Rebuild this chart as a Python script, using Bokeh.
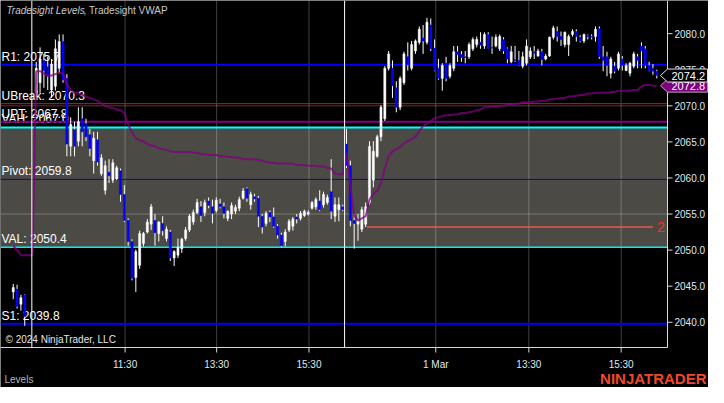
from bokeh.plotting import figure
from bokeh.models import Range1d, ColumnDataSource
from bokeh.embed import file_html
from bokeh.resources import INLINE
from bokeh.core.properties import value

nan = float("nan")

# ---------------- data (5-minute bars, bar number = position) ----------------
opens = [
    2044.2, 2044.6, 2042.5, 2043.8, nan, nan, 2071.8, 2073.2, 2076.3, 2075.4,
    2072.2, 2072.7, 2075.2, 2078.9, 2073.8, 2064.4, 2066.7, 2065.1, 2068.2, 2067.5,
    2066.0, 2062.4, 2065.3, 2060.6, 2058.3, 2060.8, 2059.7, 2059.9, 2061.0, 2057.7,
    2054.1, 2051.2, 2046.2, 2047.9, 2050.9, 2052.5, 2053.6, 2054.1, 2052.3, 2053.7,
    2051.6, 2052.5, 2048.9, 2049.3, 2050.2, 2051.6, 2052.8, 2053.9, 2055.2, 2056.0,
    2055.2, 2056.8, 2056.0, 2055.5, 2056.4, 2056.0, 2054.4, 2055.0, 2055.4, 2055.8,
    2057.2, 2058.5, 2056.3, 2057.4, 2057.2, 2054.7, 2053.7, 2055.2, 2054.6, 2053.3,
    2052.1, 2051.2, 2052.8, 2053.3, 2054.6, 2054.4, 2054.8, 2055.0, 2055.8, 2056.0,
    2056.8, 2056.3, 2056.6, 2058.1, 2054.7, 2055.6, 2056.0, 2064.7, 2061.7, 2054.1,
    2053.6, 2052.9, 2053.6, 2056.6, 2059.7, 2063.0, 2065.7, 2068.2, 2075.2, 2075.2,
    2072.5, 2069.8, 2073.2, 2076.8, 2075.2, 2077.6, 2078.8, 2079.4, 2078.8, 2081.2,
    2078.0, 2075.2, 2073.8, 2075.9, 2074.1, 2075.2, 2077.5, 2077.1, 2076.8, 2076.8,
    2077.9, 2078.5, 2078.8, 2078.3, 2079.9, 2078.1, 2078.3, 2077.9, 2079.2, 2077.9,
    2076.1, 2076.4, 2076.3, 2075.5, 2075.9, 2076.8, 2077.5, 2076.9, 2077.5, 2076.5,
    2076.9, 2079.5, 2080.3, 2079.6, 2078.5, 2078.5, 2079.9, 2080.3, 2079.5, 2079.0,
    2079.8, 2079.6, 2079.6, 2080.7, 2076.8, 2076.8, 2074.5, 2075.5, 2075.2, 2076.5,
    2074.9, 2074.5, 2075.5, 2076.8, 2078.3, 2077.9, 2075.6, 2075.2, 2074.8,
]
highs = [
    2045.3, 2045.2, 2043.8, 2043.9, nan, nan, 2076.1, 2078.1, 2077.2, 2076.8,
    2076.5, 2079.2, 2079.9, 2079.9, 2074.4, 2068.4, 2067.8, 2069.8, 2069.8, 2068.2,
    2066.8, 2066.4, 2066.4, 2063.3, 2062.4, 2062.6, 2062.6, 2061.7, 2061.3, 2059.0,
    2054.4, 2051.5, 2050.1, 2052.7, 2052.5, 2054.3, 2056.4, 2055.0, 2054.0, 2054.7,
    2053.3, 2052.8, 2050.0, 2051.6, 2051.7, 2053.2, 2055.0, 2055.6, 2057.1, 2056.8,
    2057.0, 2057.3, 2057.0, 2057.3, 2057.1, 2056.6, 2055.5, 2056.6, 2056.3, 2057.4,
    2058.6, 2058.7, 2058.1, 2057.8, 2057.5, 2055.0, 2055.4, 2055.5, 2055.9, 2053.6,
    2052.4, 2052.9, 2054.3, 2054.6, 2055.0, 2055.4, 2055.6, 2055.5, 2056.8, 2057.3,
    2058.3, 2058.1, 2057.7, 2062.6, 2057.3, 2057.3, 2056.3, 2066.8, 2062.4, 2055.0,
    2055.0, 2056.0, 2056.6, 2065.1, 2065.1, 2066.0, 2070.1, 2075.5, 2077.6, 2076.3,
    2073.4, 2074.1, 2077.5, 2078.8, 2079.0, 2079.2, 2081.0, 2081.2, 2082.2, 2082.1,
    2079.2, 2076.5, 2075.9, 2076.8, 2075.9, 2078.3, 2078.3, 2077.6, 2077.6, 2078.8,
    2079.5, 2079.6, 2080.2, 2080.2, 2080.2, 2079.6, 2079.9, 2079.9, 2079.5, 2078.1,
    2078.3, 2078.3, 2077.6, 2077.5, 2079.2, 2078.1, 2078.3, 2077.9, 2077.9, 2077.2,
    2079.6, 2081.1, 2081.0, 2080.3, 2080.3, 2079.9, 2080.6, 2080.6, 2079.8, 2080.0,
    2079.9, 2079.9, 2081.0, 2081.0, 2078.3, 2077.5, 2076.8, 2076.1, 2077.5, 2076.9,
    2075.9, 2076.1, 2077.5, 2077.2, 2078.8, 2078.3, 2076.1, 2075.8, 2075.0,
]
lows = [
    2043.2, 2041.9, 2041.6, 2039.5, nan, nan, 2071.1, 2071.8, 2072.5, 2072.2,
    2071.1, 2072.1, 2074.5, 2073.2, 2063.0, 2063.0, 2063.0, 2064.4, 2064.4, 2065.1,
    2063.0, 2060.6, 2061.7, 2060.3, 2057.7, 2059.3, 2059.3, 2059.7, 2056.7, 2053.9,
    2050.6, 2045.8, 2044.2, 2047.4, 2050.5, 2052.3, 2052.8, 2050.6, 2051.2, 2052.0,
    2051.2, 2048.5, 2047.8, 2048.9, 2049.6, 2051.3, 2052.5, 2053.5, 2055.0, 2053.9,
    2054.7, 2055.8, 2053.7, 2055.2, 2055.8, 2054.4, 2054.0, 2054.3, 2055.0, 2055.4,
    2057.0, 2056.7, 2055.6, 2056.7, 2053.2, 2052.3, 2053.3, 2053.9, 2053.1, 2051.6,
    2050.4, 2050.5, 2052.5, 2052.7, 2053.7, 2054.1, 2054.6, 2054.8, 2055.6, 2055.6,
    2055.4, 2055.9, 2056.3, 2054.3, 2053.9, 2054.0, 2055.4, 2061.4, 2053.3, 2050.2,
    2051.3, 2052.5, 2053.2, 2056.3, 2058.7, 2062.8, 2065.1, 2067.9, 2074.9, 2071.1,
    2069.1, 2069.4, 2072.9, 2074.9, 2074.9, 2077.2, 2078.5, 2077.2, 2078.5, 2077.6,
    2074.8, 2073.6, 2072.1, 2073.4, 2073.8, 2074.8, 2076.1, 2076.1, 2075.9, 2076.5,
    2077.6, 2078.1, 2077.9, 2077.9, 2077.9, 2077.2, 2078.1, 2077.6, 2077.2, 2075.9,
    2075.9, 2076.1, 2075.5, 2075.2, 2075.6, 2076.5, 2076.5, 2076.8, 2075.6, 2076.3,
    2076.8, 2079.2, 2078.9, 2078.3, 2078.1, 2076.9, 2079.6, 2078.9, 2078.8, 2078.7,
    2079.2, 2079.2, 2078.9, 2076.5, 2074.8, 2074.1, 2073.8, 2074.5, 2074.9, 2074.9,
    2074.8, 2074.1, 2075.2, 2075.2, 2075.2, 2075.2, 2074.8, 2074.3, 2073.8,
]
closes = [
    2044.8, 2042.2, 2043.4, 2040.8, nan, nan, 2075.2, 2076.5, 2074.9, 2074.1,
    2075.8, 2077.9, 2078.9, 2073.6, 2064.7, 2067.4, 2064.4, 2067.8, 2066.4, 2065.7,
    2064.1, 2065.5, 2062.2, 2062.8, 2061.7, 2060.3, 2062.1, 2061.4, 2057.7, 2054.1,
    2051.2, 2046.1, 2049.8, 2052.3, 2052.3, 2053.9, 2056.0, 2052.4, 2053.9, 2052.7,
    2052.9, 2048.9, 2049.8, 2050.4, 2051.5, 2052.8, 2054.7, 2055.2, 2056.6, 2054.8,
    2056.6, 2056.2, 2055.1, 2056.9, 2056.0, 2055.1, 2055.4, 2056.2, 2055.9, 2057.0,
    2058.2, 2057.2, 2057.7, 2057.1, 2054.7, 2053.2, 2055.1, 2054.6, 2053.3, 2052.1,
    2050.6, 2052.5, 2054.0, 2054.3, 2054.3, 2055.1, 2055.4, 2055.2, 2056.6, 2057.0,
    2055.6, 2057.7, 2057.3, 2055.4, 2056.3, 2056.3, 2055.6, 2061.7, 2054.1, 2053.7,
    2054.1, 2055.6, 2056.0, 2064.4, 2063.7, 2065.7, 2069.8, 2075.2, 2077.2, 2072.8,
    2069.8, 2073.8, 2077.2, 2075.7, 2078.5, 2079.0, 2080.6, 2079.0, 2081.6, 2077.9,
    2074.9, 2073.8, 2075.6, 2073.8, 2075.6, 2077.5, 2077.1, 2076.7, 2076.7, 2078.5,
    2079.2, 2079.2, 2078.4, 2079.9, 2077.9, 2078.0, 2079.5, 2079.6, 2077.6, 2076.5,
    2077.5, 2076.3, 2075.6, 2076.8, 2078.3, 2077.6, 2077.3, 2077.6, 2076.4, 2076.9,
    2079.5, 2080.8, 2079.6, 2079.2, 2080.2, 2079.6, 2080.3, 2079.6, 2079.0, 2079.9,
    2079.6, 2079.5, 2080.6, 2076.8, 2076.3, 2075.6, 2076.5, 2074.8, 2077.2, 2075.6,
    2075.6, 2075.9, 2077.2, 2076.3, 2077.6, 2075.6, 2074.9, 2074.8, 2074.2,
]
vwap = [
    2050.6, 2050.0, 2049.3, 2049.3, 2049.3, 2049.3, 2074.8, 2074.8, 2074.5, 2074.2,
    2074.2, 2074.4, 2074.6, 2074.5, 2072.9, 2072.2, 2071.8, 2071.7, 2071.5, 2071.3,
    2071.1, 2070.9, 2070.7, 2070.3, 2070.0, 2069.8, 2069.7, 2069.5, 2069.4, 2069.0,
    2067.4, 2066.3, 2065.5, 2065.2, 2065.1, 2064.7, 2064.5, 2064.4, 2064.1, 2064.0,
    2063.9, 2063.7, 2063.6, 2063.6, 2063.6, 2063.6, 2063.6, 2063.5, 2063.5, 2063.3,
    2063.3, 2063.2, 2063.2, 2063.2, 2063.0, 2063.0, 2062.9, 2062.9, 2062.8, 2062.8,
    2062.6, 2062.6, 2062.6, 2062.6, 2062.5, 2062.4, 2062.2, 2062.1, 2062.1, 2062.0,
    2062.0, 2062.0, 2062.0, 2062.0, 2061.8, 2061.8, 2061.8, 2061.7, 2061.7, 2061.7,
    2061.6, 2061.6, 2061.4, 2061.3, 2060.6, 2060.5, 2060.5, 2063.4, 2059.0, 2054.7,
    2054.1, 2054.4, 2054.7, 2057.0, 2057.8, 2058.2, 2059.3, 2061.3, 2063.0, 2063.7,
    2064.0, 2064.3, 2064.8, 2065.1, 2065.4, 2065.7, 2066.5, 2067.2, 2067.5, 2067.9,
    2068.3, 2068.4, 2068.6, 2068.7, 2068.7, 2068.8, 2068.8, 2069.0, 2069.0, 2069.1,
    2069.2, 2069.4, 2069.5, 2069.8, 2069.8, 2069.9, 2069.9, 2070.0, 2070.0, 2070.2,
    2070.2, 2070.3, 2070.3, 2070.5, 2070.5, 2070.5, 2070.6, 2070.6, 2070.7, 2070.7,
    2070.9, 2070.9, 2071.0, 2071.1, 2071.1, 2071.3, 2071.3, 2071.4, 2071.5, 2071.5,
    2071.7, 2071.7, 2071.8, 2071.8, 2071.8, 2071.8, 2071.9, 2071.9, 2072.1, 2072.1,
    2072.1, 2072.1, 2072.2, 2072.2, 2072.7, 2072.9, 2072.9, 2072.8, 2072.8,
]

tick_pos = [29.2, 53.1, 77.2, 110.3, 134.6, 158.7]
tick_labels = ["11:30", "13:30", "15:30", "1 Mar", "13:30", "15:30"]
session_breaks = [4.85, 86.5]

level_names = ["S1", "VAL", "Pivot", "VAH", "UPT", "UBreak", "R1"]
level_values = [2039.8, 2050.4, 2059.8, 2067.0, 2067.8, 2070.3, 2075.7]
y_ticks = [2040.0, 2045.0, 2050.0, 2055.0, 2060.0, 2065.0, 2070.0, 2075.0, 2080.0]
grid_levels = [2055.0, 2070.0]

signal_value = 2053.2
signal_start = 92.3
signal_end = 167.0
signal_text = "2"

# ---------------- styles / layout ----------------
level_colors = ["#0000ff", "#00f0f0", "#0000e0", "#00ffff", "#800080", "#ff0000", "#0000ff"]
level_widths = [2, 1.5, 1, 2, 2, 1, 2]
FONT = value("Liberation Sans")
W, H = 708, 387          # canvas
FW, FH = 667, 347        # price panel inside the canvas
X0, X1 = -3.33, 170.8    # price panel x extent (bar numbers)
Y0, Y1 = 2036.5, 2084.6  # price panel y extent
ux = (X1 - X0) / FW
uy = (Y1 - Y0) / FH

p = figure(width=W, height=H,
           x_range=Range1d(X0, X0 + W * ux), y_range=Range1d(Y1 - H * uy, Y1),
           x_axis_location=None, y_axis_location=None,
           toolbar_location=None, output_backend="svg",
           background_fill_color="#000000", border_fill_color="#000000",
           min_border=0, min_border_left=0, min_border_right=0,
           min_border_top=0, min_border_bottom=0)
p.outline_line_color = None
p.grid.visible = False

lv = dict(zip(level_names, level_values))
AX = "#d8d8d8"
LBL = "#dfe8f2"

# value area box
p.quad(left=[X0], right=[X1], bottom=[lv["VAL"]], top=[lv["VAH"]],
       fill_color="#4b4a45", line_color=None)

# grid
p.segment(x0=tick_pos, x1=tick_pos, y0=[Y0] * len(tick_pos), y1=[Y1] * len(tick_pos),
          line_color="#ffffff", line_alpha=0.25, line_width=1)
p.segment(x0=[X0] * len(grid_levels), x1=[X1] * len(grid_levels),
          y0=grid_levels, y1=grid_levels, line_color="#ffffff", line_alpha=0.25, line_width=1)

# level lines and labels
for name, v, col, lw in zip(level_names, level_values, level_colors, level_widths):
    p.text(x=[X0], y=[v], text=[f"{name}: {v:.1f}"], x_offset=1, y_offset=-1,
           text_color="#ffffff", text_font=FONT, text_font_size="12px",
           text_baseline="bottom")
    p.segment(x0=[X0], x1=[X1], y0=[v], y1=[v], line_color=col, line_width=lw)

# signal line
p.segment(x0=[signal_start], x1=[signal_end], y0=[signal_value], y1=[signal_value],
          line_color="#e8584f", line_width=1.5)
p.text(x=[signal_end], y=[signal_value], text=[signal_text], x_offset=4,
       text_color="#ff2a2a", text_font=FONT, text_font_size="14px",
       text_baseline="middle")

# candles
idx = list(range(len(opens)))
tops = [max(o, c) for o, c in zip(opens, closes)]
bots = [min(o, c) for o, c in zip(opens, closes)]
cols = ["#ffffff" if c >= o else "#0000ff" for o, c in zip(opens, closes)]
src = ColumnDataSource(dict(x=idx, o=opens, h=highs, l=lows, c=closes,
                            top=tops, bot=bots, col=cols))
p.segment(x0="x", x1="x", y0="l", y1="h", source=src, line_color="#ffffff", line_width=1)
p.vbar(x="x", top="top", bottom="bot", width=0.55, source=src,
       fill_color="col", line_color="col", line_width=0.5)

# VWAP
p.line(idx, vwap, line_color="#800080", line_alpha=0.75, line_width=2)

# session break lines
p.segment(x0=session_breaks, x1=session_breaks, y0=[Y0] * 2, y1=[Y1] * 2,
          line_color="#ffffff", line_width=1)

# axes (price axis right, time axis below)
p.segment(x0=[X1, X0], x1=[X1, X1], y0=[Y0, Y0], y1=[Y1, Y0], line_color=AX, line_width=1)
p.segment(x0=[X1] * len(y_ticks), x1=[X1 + 5 * ux] * len(y_ticks), y0=y_ticks, y1=y_ticks,
          line_color=AX, line_width=1)
p.text(x=[X1] * len(y_ticks), y=y_ticks, text=[f"{t:.1f}" for t in y_ticks], x_offset=7,
       text_color=LBL, text_font=FONT, text_font_size="10px", text_baseline="middle")
p.segment(x0=tick_pos, x1=tick_pos, y0=[Y0] * len(tick_pos),
          y1=[Y0 - 5 * uy] * len(tick_pos), line_color=AX, line_width=1)
p.text(x=tick_pos, y=[Y0] * len(tick_pos), text=tick_labels, y_offset=11,
       text_color=LBL, text_font=FONT, text_font_size="10px",
       text_align="center", text_baseline="top")

# last value markers on the price axis
def marker(v, fill, border):
    hh = 6.5 * uy
    xs = [X1 - 7 * ux, X1, X1 + 40 * ux, X1 + 40 * ux, X1]
    ys = [v, v + hh, v + hh, v - hh, v - hh]
    p.patch(xs, ys, fill_color=fill, line_color=border, line_width=1)
    p.text(x=[X1], y=[v], text=[f"{v:.1f}"], x_offset=4, text_color="#ffffff",
           text_font=FONT, text_font_size="11px", text_baseline="middle")

marker(vwap[-1], "#800080", "#a8a8a8")
marker(closes[-1], "#000000", "#e0e0e0")

# texts
p.text(x=[X0], y=[Y1], text=["Tradesight Levels"], x_offset=6, y_offset=4,
       text_font_style="italic", text_color="#c8c8c8", text_font=FONT,
       text_font_size="10px", text_baseline="top")
p.text(x=[X0], y=[Y1], text=[", Tradesight VWAP"], x_offset=83, y_offset=4,
       text_color="#c8c8c8", text_font=FONT, text_font_size="10px", text_baseline="top")
p.text(x=[X0], y=[Y0], text=["\u00a9 2024 NinjaTrader, LLC"], x_offset=5, y_offset=-8,
       text_color="#e6e6e6", text_font=FONT, text_font_size="10px",
       text_baseline="alphabetic")
p.text(x=[X0], y=[Y0], text=["Levels"], x_offset=4, y_offset=32,
       text_color="#b4b4b4", text_font=FONT, text_font_size="10px",
       text_baseline="alphabetic")
p.text(x=[X1], y=[Y0], text=["NINJATRADER"], x_offset=39, y_offset=31,
       text_color="#ee4a2a", text_font=FONT, text_font_size="15px",
       text_font_style="bold", text_align="right", text_baseline="alphabetic")

open("out.html", "w").write(file_html(p, INLINE))
